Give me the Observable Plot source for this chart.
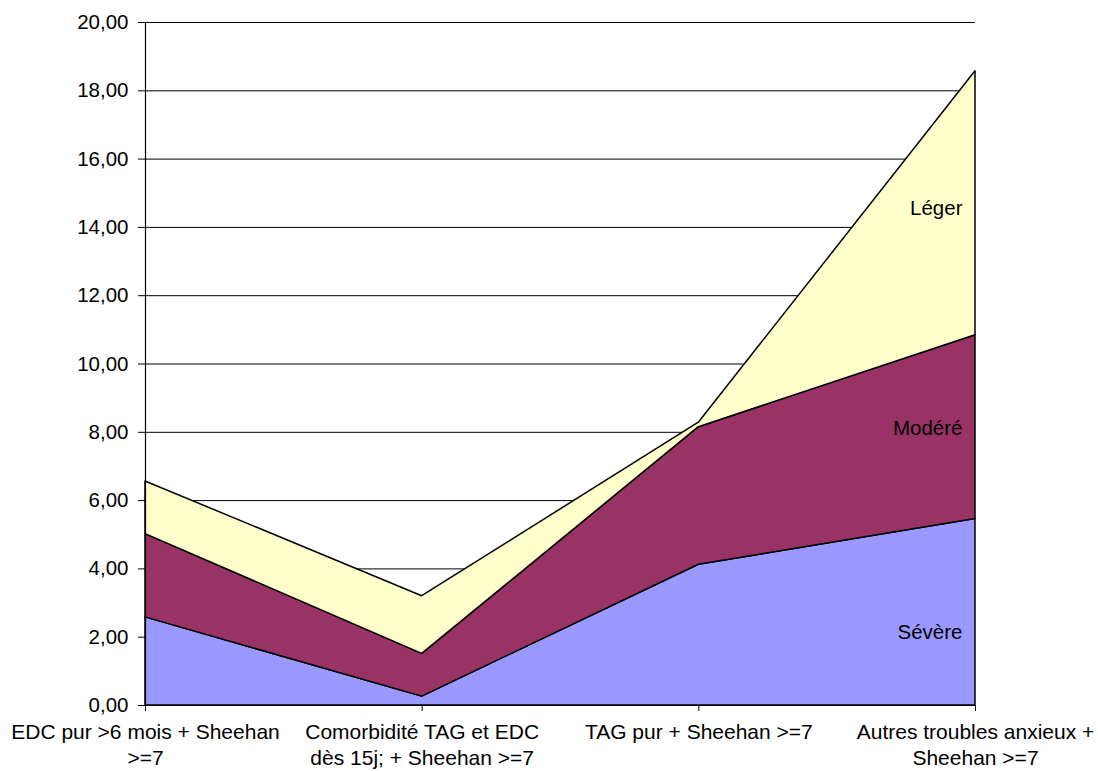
<!DOCTYPE html>
<html><head><meta charset="utf-8">
<script src="https://cdn.jsdelivr.net/npm/d3@7"></script>
<script src="https://cdn.jsdelivr.net/npm/@observablehq/plot@0.6"></script>
<style>body{margin:0;background:#fff;}</style>
</head><body><div id="chart"></div>
<script>
const categories = [
  "EDC pur >6 mois + Sheehan\n>=7",
  "Comorbidité TAG et EDC\ndès 15j; + Sheehan >=7",
  "TAG pur + Sheehan >=7",
  "Autres troubles anxieux +\nSheehan >=7"
];
const seriesNames = ["Sévère", "Modéré", "Léger"];
const severe = [2.58, 0.26, 4.12, 5.46];
const modere = [2.44, 1.25, 4.03, 5.38];
const leger  = [1.54, 1.69, 0.13, 7.73];
const yTicks = [0, 2, 4, 6, 8, 10, 12, 14, 16, 18, 20];
const colors = ["#9999FF", "#993366", "#FFFFCC"];
// where the series names are written (value on the y axis, at the last category)
const labelY = [2.15, 8.1, 14.55];

const seriesValues = [severe, modere, leger];
const rows = [];
seriesNames.forEach((s, k) => {
  seriesValues[k].forEach((v, i) => rows.push({i, cat: categories[i], series: s, value: v}));
});
const labels = seriesNames.map((s, k) => ({series: s, y: labelY[k], x: categories.length - 1}));

const chart = Plot.plot({
  width: 1098,
  height: 771,
  marginLeft: 145,
  marginRight: 123,
  marginTop: 22,
  marginBottom: 66,
  style: {fontFamily: "'Liberation Sans', Arial, sans-serif", fontSize: "20.5px", background: "#fff", color: "#000"},
  x: {domain: [0, categories.length - 1]},
  y: {domain: [0, 20]},
  color: {domain: seriesNames, range: colors},
  marks: [
    Plot.gridY(yTicks, {stroke: "#000", strokeOpacity: 1, strokeWidth: 1}),
    Plot.areaY(rows, {x: "i", y: "value", z: "series", fill: "series", stroke: "#000", strokeWidth: 1.5, strokeLinejoin: "round"}),
    Plot.ruleX([0], {y1: 0, y2: 20, stroke: "#000", strokeWidth: 1.2}),
    Plot.ruleY([0], {stroke: "#000", strokeWidth: 1.2}),
    Plot.axisY(yTicks, {tickSize: 7, tickPadding: 10, tickFormat: d => d.toFixed(2).replace(".", ","), fontSize: 20.5, label: null}),
    Plot.axisX([0, 1, 2, 3], {tickSize: 6, tickPadding: 9, tickFormat: i => categories[i], fontSize: 21, lineHeight: 1.25, label: null}),
    Plot.text(labels, {x: "x", y: "y", text: "series", textAnchor: "end", dx: -13, fontSize: 20.5, fill: "#000"})
  ]
});
document.getElementById("chart").appendChild(chart);
</script>
</body></html>
